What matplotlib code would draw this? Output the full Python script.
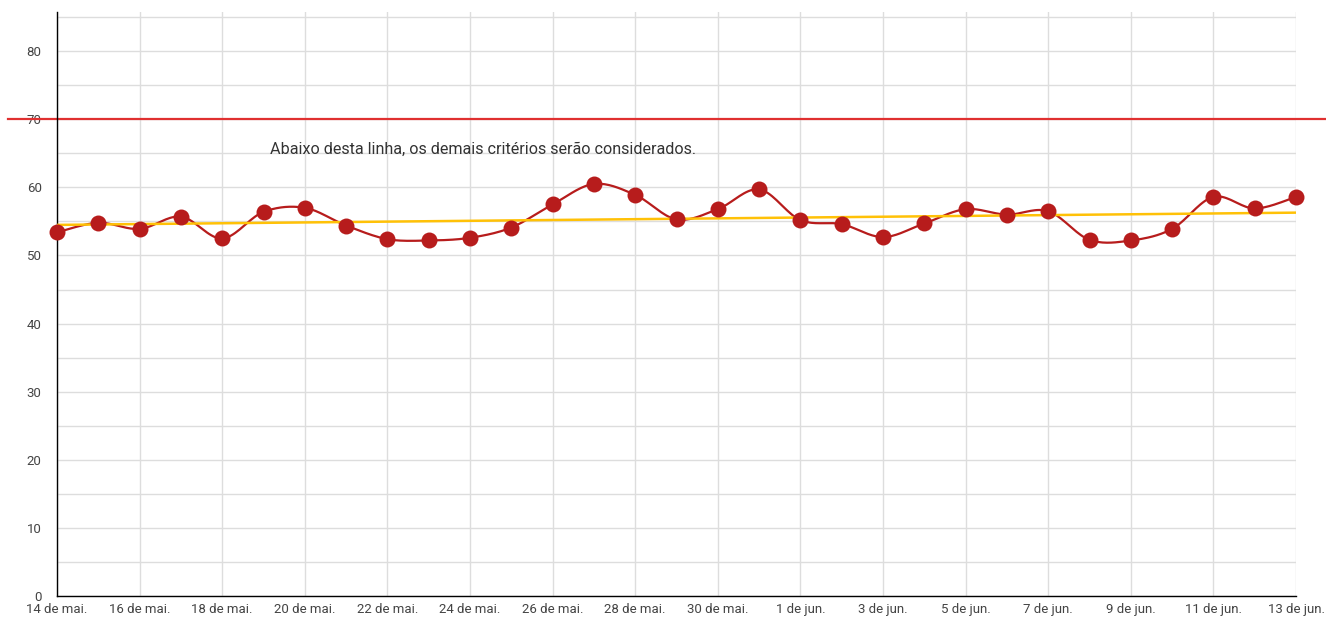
import numpy as np
import matplotlib
matplotlib.use('Agg')
import matplotlib.pyplot as plt

plt.rcParams['font.family'] = ['Roboto', 'DejaVu Sans']

# ============================================================
# Dados (um ponto por dia, 14 de mai. a 13 de jun.)
# ============================================================
dias = np.arange(31)  # 0 = 14 de mai.
valores = [53.4, 54.8, 53.9, 55.7, 52.5, 56.4, 57.0, 54.4, 52.4, 52.2,
           52.6, 54.1, 57.5, 60.5, 58.9, 55.3, 56.8, 59.7, 55.2, 54.6,
           52.7, 54.7, 56.8, 56.0, 56.5, 52.3, 52.2, 53.9, 58.6, 56.9,
           58.6]
tick_pos = np.arange(0, 31, 2)
tick_labels = ['14 de mai.', '16 de mai.', '18 de mai.', '20 de mai.',
               '22 de mai.', '24 de mai.', '26 de mai.', '28 de mai.',
               '30 de mai.', '1 de jun.', '3 de jun.', '5 de jun.',
               '7 de jun.', '9 de jun.', '11 de jun.', '13 de jun.']
limite = 70
texto = 'Abaixo desta linha, os demais critérios serão considerados.'

cor_serie = '#b71c1c'
cor_tend = '#ffc107'
cor_limite = '#e03030'

# ============================================================
# Curva suave (bezier tipo catmull-rom entre os pontos)
# ============================================================
def curva_suave(x, y, n=20):
    x = np.asarray(x, float)
    y = np.asarray(y, float)
    px = np.concatenate([[x[0]], x, [x[-1]]])
    py = np.concatenate([[y[0]], y, [y[-1]]])
    t = np.linspace(0, 1, n)[:, None]
    xs, ys = [], []
    for i in range(len(x) - 1):
        p0 = np.array([px[i + 1], py[i + 1]])
        p3 = np.array([px[i + 2], py[i + 2]])
        c1 = p0 + (np.array([px[i + 2], py[i + 2]]) - np.array([px[i], py[i]])) / 6
        c2 = p3 - (np.array([px[i + 3], py[i + 3]]) - np.array([px[i + 1], py[i + 1]])) / 6
        b = ((1 - t) ** 3) * p0 + 3 * ((1 - t) ** 2) * t * c1 + 3 * (1 - t) * t ** 2 * c2 + t ** 3 * p3
        xs.append(b[:, 0])
        ys.append(b[:, 1])
    return np.concatenate(xs), np.concatenate(ys)

# ============================================================
# Figura
# ============================================================
fig = plt.figure(figsize=(13.26, 6.19), dpi=100)
ax = fig.add_axes([57 / 1326, 23 / 619, 1239 / 1326, 584 / 619])

ax.set_xlim(0, 30)
ax.set_ylim(0, 85.75)

ax.spines['top'].set_visible(False)
ax.spines['right'].set_visible(False)
ax.spines['left'].set_color('black')
ax.spines['bottom'].set_color('black')
ax.spines['left'].set_linewidth(1.0)
ax.spines['bottom'].set_linewidth(1.0)
ax.spines['left'].set_zorder(2.5)
ax.spines['bottom'].set_zorder(2.5)

ax.set_xticks(tick_pos)
ax.set_xticklabels(tick_labels)
ax.set_yticks(np.arange(0, 90, 10))
ax.set_yticks(np.arange(5, 90, 10), minor=True)
ax.tick_params(axis='both', length=0, labelsize=9.5, labelcolor='#444444')
ax.tick_params(axis='y', pad=11)
ax.tick_params(axis='x', pad=5)
ax.tick_params(which='minor', length=0)

ax.grid(True, which='both', color='#dddddd', linewidth=1.0, zorder=0)
ax.set_axisbelow(True)

# linha de limite
ax.axhline(limite, xmin=-0.0395, xmax=1.03, color=cor_limite, linewidth=1.6,
           clip_on=False, zorder=2)
ax.text(5.16, 65.6, texto, ha='left', va='center', fontsize=11.6,
        color='#333333', zorder=5)

# serie suavizada
sx, sy = curva_suave(dias, valores)
ax.plot(sx, sy, color=cor_serie, linewidth=1.6, zorder=3, clip_on=False)

# linha de tendencia (regressao linear)
coef = np.polyfit(dias, valores, 1)
ax.plot([dias[0], dias[-1]], np.polyval(coef, [dias[0], dias[-1]]),
        color=cor_tend, linewidth=1.8, zorder=3.5)

ax.plot(dias, valores, 'o', color=cor_serie, markersize=11.5,
        markeredgewidth=0, zorder=4, clip_on=False)

plt.savefig('out.png', dpi=100)
